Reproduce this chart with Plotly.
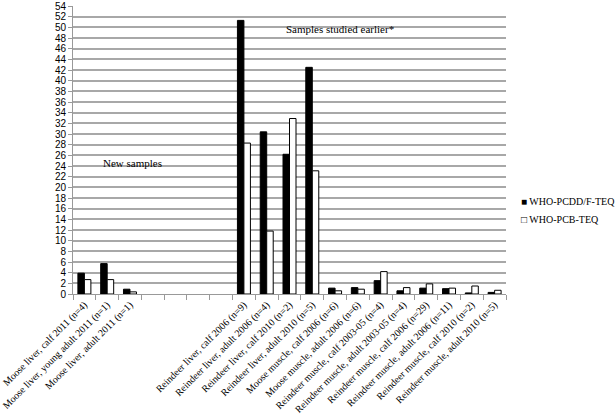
import plotly.graph_objects as go

categories = [
    "Moose liver, calf 2011 (n=4)",
    "Moose liver, young adult 2011 (n=1)",
    "Moose liver, adult 2011 (n=1)",
    " ", "  ", "   ", "    ",
    "Reindeer liver, calf 2006 (n=9)",
    "Reindeer liver, adult 2006 (n=4)",
    "Reindeer liver, calf 2010 (n=2)",
    "Reindeer liver, adult 2010 (n=5)",
    "Moose muscle, calf 2006 (n=6)",
    "Moose muscle, adult 2006 (n=6)",
    "Reindeer muscle, calf 2003-05 (n=4)",
    "Reindeer muscle, adult 2003-05 (n=4)",
    "Reindeer muscle, calf 2006 (n=29)",
    "Reindeer muscle, adult 2006 (n=11)",
    "Reindeer muscle, calf 2010 (n=2)",
    "Reindeer muscle, adult 2010 (n=5)",
]
pcdd_teq = [3.9, 5.7, 0.9, None, None, None, None,
            51.3, 30.4, 26.2, 42.5,
            1.1, 1.2, 2.5, 0.6, 1.1, 1.0, 0.2, 0.3]
pcb_teq = [2.7, 2.7, 0.4, None, None, None, None,
           28.3, 11.8, 32.9, 23.1,
           0.6, 0.9, 4.2, 1.2, 1.9, 1.1, 1.5, 0.7]
series_names = ["WHO-PCDD/F-TEQ", "WHO-PCB-TEQ"]
legend_glyphs = ["\u25A0", "\u25A1"]
y_ticks = list(range(0, 55, 2))

serif = "Liberation Serif"

fig = go.Figure()
fig.add_trace(go.Bar(x=categories, y=pcdd_teq, name=series_names[0], showlegend=False,
                     marker=dict(color="black", line=dict(color="black", width=1))))
fig.add_trace(go.Bar(x=categories, y=pcb_teq, name=series_names[1], showlegend=False,
                     marker=dict(color="white", line=dict(color="black", width=1))))

fig.update_layout(
    width=615, height=415,
    margin=dict(l=73, r=109, t=6, b=121, autoexpand=False),
    paper_bgcolor="white", plot_bgcolor="white",
    barmode="group", bargap=0.43, bargroupgap=0,
    font=dict(family=serif, size=10, color="black"),
)
fig.update_xaxes(
    type="category", categoryorder="array", categoryarray=categories,
    tickangle=-45, tickson="boundaries", ticks="outside", ticklen=5,
    tickcolor="#999999", showline=True, linecolor="#999999", linewidth=1,
    showgrid=False, automargin=False,
    tickfont=dict(family=serif, size=10, color="black"),
)
fig.update_yaxes(
    range=[0, 54], tickvals=y_ticks, ticks="outside", ticklen=4,
    tickcolor="#999999", showline=True, linecolor="#999999", linewidth=1,
    showgrid=True, gridcolor="#a8a8a8", gridwidth=1.5, zeroline=False,
    automargin=False,
    tickfont=dict(family="Liberation Sans", size=10, color="black"),
)
fig.add_annotation(text="New samples", xref="paper", yref="y", x=0.138, y=24.5,
                   xanchor="center", showarrow=False,
                   font=dict(family=serif, size=11, color="black"))
fig.add_annotation(text="Samples studied earlier*", xref="paper", yref="y", x=0.617, y=49.6,
                   xanchor="center", showarrow=False,
                   font=dict(family=serif, size=11, color="black"))
for i, (g, nm) in enumerate(zip(legend_glyphs, series_names)):
    fig.add_annotation(text=g + " " + nm, xref="paper", yref="paper",
                       x=1.03, y=0.322 - i * 0.0625, xanchor="left", yanchor="middle",
                       showarrow=False, font=dict(family=serif, size=10, color="black"))

fig.write_html("out.html", config={"displayModeBar": False},
               post_script="document.body.style.margin='0';")
